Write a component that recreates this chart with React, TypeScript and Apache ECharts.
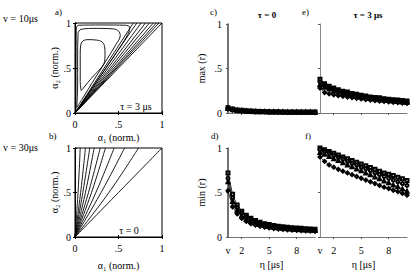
import React, { useEffect, useRef } from "react";
import * as echarts from "echarts";

// ---- data ----
const ETA = [0.5, 1, 1.5, 2, 2.5, 3, 3.5, 4, 4.5, 5, 5.5, 6, 6.5, 7, 7.5, 8, 8.5, 9, 9.5, 10];
const ETA_TICKS = [2, 5, 8];
const ETA_LABELS = [0.5, 2, 5, 8];

// panel a (v = 10 μs, τ = 3 μs): closed contours and fan lines
const aLoop1 = [[0.07, 0.25], [0.06, 0.35], [0.06, 0.5], [0.06, 0.65], [0.065, 0.75], [0.09, 0.8], [0.15, 0.815], [0.25, 0.81], [0.31, 0.79], [0.34, 0.74], [0.345, 0.65], [0.34, 0.57], [0.3, 0.5], [0.22, 0.42], [0.14, 0.33], [0.09, 0.27], [0.07, 0.25]];
const aLoop2 = [[0.02, 0.06], [0.03, 0.3], [0.03, 0.6], [0.035, 0.88], [0.07, 0.93], [0.25, 0.94], [0.44, 0.935], [0.5, 0.91], [0.52, 0.86], [0.47, 0.76], [0.35, 0.57], [0.2, 0.34], [0.08, 0.15], [0.02, 0.06]];
const aLoop3 = [[0.01, 0.02], [0.012, 0.5], [0.015, 0.95], [0.04, 0.975], [0.3, 0.978], [0.58, 0.975], [0.63, 0.955], [0.62, 0.9], [0.55, 0.78], [0.3, 0.42], [0.1, 0.14], [0.01, 0.02]];
const aFanTops = [0.67, 0.71, 0.76, 0.81, 0.855, 0.9, 0.935, 0.965, 1.0];

// panel b (v = 30 μs, τ = 0): fan lines from origin
const bFanTops = [0.06, 0.12, 0.17, 0.22, 0.29, 0.35, 0.45, 0.57, 0.73, 1.0];
const bFanMids = [0.035, 0.065, 0.09, 0.12, 0.155, 0.19, 0.24, 0.3, 0.39, 0.5];

// panel c: max(r), τ = 0
const c1 = [0.06, 0.045, 0.035, 0.03, 0.025, 0.022, 0.02, 0.018, 0.016, 0.015, 0.014, 0.013, 0.012, 0.012, 0.011, 0.011, 0.01, 0.01, 0.01, 0.01];
const c2 = [0.055, 0.04, 0.032, 0.027, 0.022, 0.019, 0.017, 0.015, 0.014, 0.013, 0.012, 0.011, 0.011, 0.01, 0.01, 0.009, 0.009, 0.009, 0.009, 0.008];
const c3 = [0.05, 0.037, 0.029, 0.024, 0.02, 0.017, 0.015, 0.014, 0.013, 0.012, 0.011, 0.01, 0.01, 0.009, 0.009, 0.008, 0.008, 0.008, 0.008, 0.007];
const c4 = [0.045, 0.033, 0.026, 0.021, 0.018, 0.015, 0.014, 0.013, 0.012, 0.011, 0.01, 0.009, 0.009, 0.008, 0.008, 0.007, 0.007, 0.007, 0.007, 0.006];

// panel e: max(r), τ = 3 μs
const e1 = [0.38, 0.33, 0.3, 0.28, 0.26, 0.245, 0.235, 0.22, 0.21, 0.2, 0.19, 0.18, 0.175, 0.17, 0.16, 0.155, 0.15, 0.145, 0.14, 0.135];
const e2 = [0.35, 0.31, 0.285, 0.265, 0.25, 0.235, 0.22, 0.21, 0.2, 0.19, 0.18, 0.172, 0.165, 0.16, 0.153, 0.147, 0.142, 0.137, 0.132, 0.128];
const e3 = [0.32, 0.29, 0.27, 0.25, 0.235, 0.22, 0.21, 0.2, 0.19, 0.18, 0.17, 0.163, 0.156, 0.15, 0.145, 0.14, 0.135, 0.13, 0.125, 0.12];
const e4 = [0.28, 0.23, 0.215, 0.205, 0.195, 0.187, 0.18, 0.172, 0.165, 0.158, 0.152, 0.146, 0.14, 0.135, 0.13, 0.125, 0.12, 0.116, 0.112, 0.108];

// panel d: min(r), τ = 0
const d1 = [0.72, 0.48, 0.36, 0.29, 0.245, 0.21, 0.185, 0.165, 0.15, 0.14, 0.13, 0.122, 0.115, 0.11, 0.105, 0.1, 0.097, 0.094, 0.091, 0.088];
const d2 = [0.66, 0.44, 0.33, 0.27, 0.225, 0.195, 0.172, 0.155, 0.142, 0.132, 0.123, 0.115, 0.108, 0.103, 0.098, 0.094, 0.09, 0.087, 0.084, 0.081];
const d3 = [0.62, 0.4, 0.3, 0.24, 0.2, 0.175, 0.155, 0.14, 0.128, 0.118, 0.11, 0.104, 0.098, 0.093, 0.089, 0.085, 0.082, 0.079, 0.076, 0.074];
const d4 = [0.52, 0.34, 0.26, 0.21, 0.175, 0.15, 0.133, 0.12, 0.11, 0.102, 0.095, 0.09, 0.085, 0.081, 0.077, 0.074, 0.071, 0.069, 0.067, 0.065];

// panel f: min(r), τ = 3 μs
const f1 = [1.0, 0.98, 0.96, 0.94, 0.92, 0.9, 0.88, 0.86, 0.84, 0.82, 0.8, 0.78, 0.76, 0.74, 0.72, 0.705, 0.69, 0.67, 0.655, 0.635];
const f2 = [0.98, 0.96, 0.94, 0.915, 0.895, 0.875, 0.85, 0.83, 0.81, 0.785, 0.765, 0.745, 0.72, 0.7, 0.68, 0.66, 0.64, 0.62, 0.6, 0.58];
const f3 = [0.95, 0.93, 0.905, 0.88, 0.86, 0.835, 0.81, 0.79, 0.765, 0.745, 0.72, 0.7, 0.675, 0.655, 0.63, 0.61, 0.585, 0.565, 0.54, 0.515];
const f4 = [0.9, 0.85, 0.81, 0.785, 0.76, 0.74, 0.72, 0.7, 0.68, 0.66, 0.64, 0.62, 0.6, 0.58, 0.56, 0.545, 0.525, 0.51, 0.49, 0.47];

const SYMBOLS = ["emptyRect", "emptyCircle", "emptyTriangle", "emptyDiamond"];

const FONT = "Liberation Serif";

function normLabel(v: number) {
  if (v === 0) return "0";
  if (v === 0.5) return ".5";
  if (v === 1) return "1";
  return "";
}

export default function App() {
  const ref = useRef<HTMLDivElement>(null);

  useEffect(() => {
    if (!ref.current) return;
    const chart = echarts.init(ref.current, undefined, { renderer: "svg" });

    const txt = { fontFamily: FONT, fontSize: 10, color: "#000" };
    const grids = [
      { left: 75, top: 23, width: 87, height: 90 }, // a
      { left: 75, top: 148, width: 87, height: 89 }, // b
      { left: 228, top: 24, width: 87, height: 89 }, // c
      { left: 228, top: 148, width: 87, height: 89 }, // d
      { left: 320, top: 24, width: 87, height: 89 }, // e
      { left: 320, top: 148, width: 87, height: 89 }, // f
    ].map((g, i) => ({
      ...g,
      containLabel: false,
      outerBoundsMode: "none",
      show: i < 2,
      borderColor: "#000",
      borderWidth: 1,
      backgroundColor: "transparent",
    }));

    const boxX = (gi: number, name: string, gap: number) => ({
      type: "value",
      gridIndex: gi,
      min: 0,
      max: 1,
      interval: 0.5,
      name,
      nameLocation: "middle",
      nameGap: gap,
      nameTextStyle: { ...txt },
      axisLine: { show: true, lineStyle: { color: "#000", width: 1 } },
      axisTick: { show: true, inside: true, length: 2, lineStyle: { color: "#000" } },
      axisLabel: { ...txt, margin: 6, formatter: normLabel },
      splitLine: { show: false },
    });
    const boxY = (gi: number, name: string) => ({
      type: "value",
      gridIndex: gi,
      min: 0,
      max: 1,
      interval: 0.5,
      name,
      nameLocation: "middle",
      nameGap: 11,
      nameTextStyle: { ...txt },
      axisLine: { show: true, lineStyle: { color: "#000", width: 1 } },
      axisTick: { show: true, inside: true, length: 2, lineStyle: { color: "#000" } },
      axisLabel: { ...txt, margin: 4, formatter: normLabel },
      splitLine: { show: false },
    });
    const boxTop = (gi: number) => ({
      type: "value",
      gridIndex: gi,
      position: "top",
      min: 0,
      max: 1,
      interval: 0.5,
      axisLine: { show: true, lineStyle: { color: "#000", width: 1 } },
      axisTick: { show: true, inside: true, length: 2, lineStyle: { color: "#000" } },
      axisLabel: { show: false },
      splitLine: { show: false },
    });
    const boxRight = (gi: number) => ({
      type: "value",
      gridIndex: gi,
      position: "right",
      min: 0,
      max: 1,
      interval: 0.5,
      axisLine: { show: true, lineStyle: { color: "#000", width: 1 } },
      axisTick: { show: true, inside: true, length: 2, lineStyle: { color: "#000" } },
      axisLabel: { show: false },
      splitLine: { show: false },
    });

    const etaX = (gi: number, showLabels: boolean) => ({
      type: "value",
      gridIndex: gi,
      min: 0.5,
      max: 10,
      name: showLabels ? "η [μs]" : "",
      nameLocation: "middle",
      nameGap: 22,
      nameTextStyle: { ...txt },
      axisLine: { show: true, onZero: false, lineStyle: { color: "#777", width: 1 } },
      axisTick: { show: true, length: 2, customValues: ETA_TICKS, lineStyle: { color: "#555" } },
      axisLabel: {
        show: showLabels,
        ...txt,
        margin: 8,
        customValues: ETA_LABELS,
        formatter: (v: number) => (v === 0.5 ? "v" : String(v)),
      },
      splitLine: { show: false },
    });
    const rY = (gi: number, name: string, showLabels: boolean) => ({
      type: "value",
      gridIndex: gi,
      min: 0,
      max: 1,
      interval: 0.5,
      name,
      nameLocation: "middle",
      nameGap: 22,
      nameTextStyle: { ...txt },
      axisLine: { show: true, lineStyle: { color: showLabels ? "#444" : "#888", width: showLabels ? 1.5 : 1 } },
      axisTick: { show: true, length: 2, lineStyle: { color: "#555" } },
      axisLabel: { show: showLabels, ...txt, margin: 6, formatter: normLabel },
      splitLine: { show: false },
    });

    const xAxis = [
      boxX(0, "α₁ (norm.)", 19),
      boxX(1, "α₁ (norm.)", 23),
      etaX(2, false),
      etaX(3, true),
      etaX(4, false),
      etaX(5, true),
      boxTop(0),
      boxTop(1),
    ];
    const yAxis = [
      boxY(0, "α₂ (norm.)"),
      boxY(1, "α₂ (norm.)"),
      rY(2, "max (r)", true),
      rY(3, "min (r)", true),
      rY(4, "", false),
      rY(5, "", false),
      boxRight(0),
      boxRight(1),
    ];

    const contourLine = (idx: number, data: number[][], smooth: number | boolean) => ({
      type: "line",
      xAxisIndex: idx,
      yAxisIndex: idx,
      data,
      showSymbol: false,
      smooth,
      lineStyle: { color: "#000", width: 0.9 },
      silent: true,
    });

    const series: any[] = [];
    series.push(contourLine(0, aLoop1, 0.35));
    series.push(contourLine(0, aLoop2, 0.35));
    series.push(contourLine(0, aLoop3, 0.3));
    aFanTops.forEach((t) => series.push(contourLine(0, [[0, 0], [t, 1]], false)));
    bFanTops.forEach((t, i) => series.push(contourLine(1, [[0, 0], [bFanMids[i], 0.5], [t, 1]], 0.4)));

    const markerSeries = (idx: number, vals: number[], k: number) => ({
      type: "line",
      xAxisIndex: idx,
      yAxisIndex: idx,
      data: ETA.map((x, i) => [x, vals[i]]),
      symbol: SYMBOLS[k],
      symbolSize: 3,
      showSymbol: true,
      lineStyle: { color: "#000", width: 0.8 },
      itemStyle: { color: "#000", borderColor: "#222", borderWidth: 0.6 },
      silent: true,
    });
    [c1, c2, c3, c4].forEach((s, k) => series.push(markerSeries(2, s, k)));
    [d1, d2, d3, d4].forEach((s, k) => series.push(markerSeries(3, s, k)));
    [e1, e2, e3, e4].forEach((s, k) => series.push(markerSeries(4, s, k)));
    [f1, f2, f3, f4].forEach((s, k) => series.push(markerSeries(5, s, k)));

    const gtext = (text: string, x: number, y: number, opts: any = {}) => ({
      type: "text",
      x,
      y,
      style: {
        text,
        fontFamily: FONT,
        fontSize: 10,
        fill: "#000",
        textAlign: "left",
        textVerticalAlign: "middle",
        ...opts,
      },
      z: 100,
    });

    const graphic = [
      gtext("v = 10μs", 3, 18),
      gtext("v = 30μs", 3, 147),
      gtext("a)", 55, 12, { fontSize: 9 }),
      gtext("b)", 49, 136, { fontSize: 9 }),
      gtext("c)", 210, 12, { fontSize: 9 }),
      gtext("d)", 211, 136, { fontSize: 9 }),
      gtext("e)", 302, 12, { fontSize: 9 }),
      gtext("f)", 305, 136, { fontSize: 9 }),
      gtext("τ = 0", 267, 15, { fontSize: 9, fontWeight: "bold", textAlign: "center" }),
      gtext("τ = 3 μs", 368, 15, { fontSize: 9, fontWeight: "bold", textAlign: "center" }),
      gtext("τ = 3 μs", 136, 106, { fontSize: 10, textAlign: "center", backgroundColor: "#fff" }),
      gtext("τ = 0", 129, 230, { fontSize: 10, textAlign: "center", backgroundColor: "#fff" }),
    ];

    chart.setOption({
      animation: false,
      backgroundColor: "#fff",
      grid: grids,
      xAxis,
      yAxis,
      series,
      graphic,
    } as any);

    return () => chart.dispose();
  }, []);

  return (
    <div
      ref={ref}
      style={{ position: "fixed", left: 0, top: 0, width: 417, height: 271, background: "#fff" }}
    />
  );
}
